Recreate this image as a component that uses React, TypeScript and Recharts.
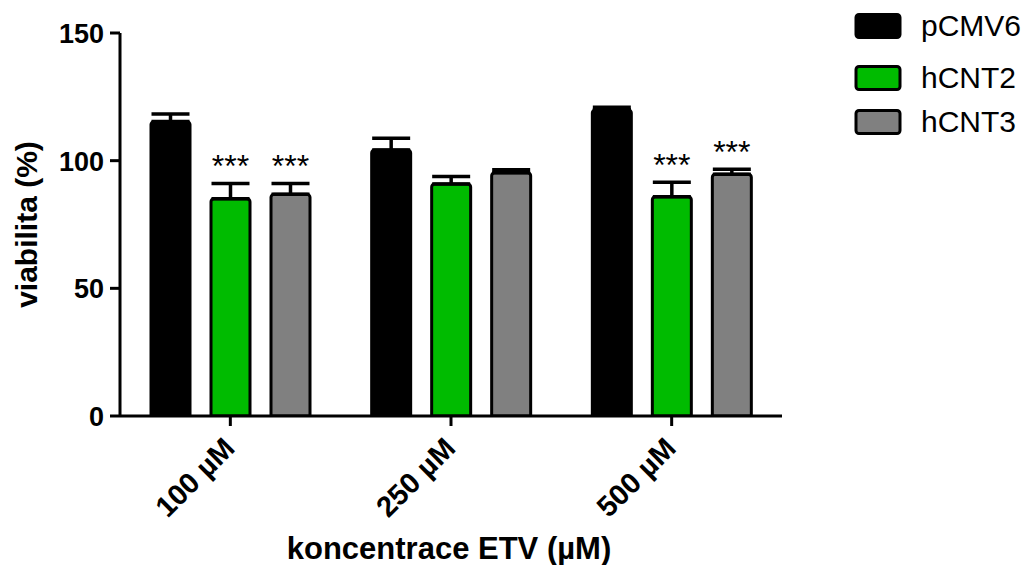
import { BarChart, Bar, XAxis, YAxis, ErrorBar, LabelList, Label, Legend } from "recharts";

const CATEGORIES = ["100 µM", "250 µM", "500 µM"];
const SERIES = ["pCMV6", "hCNT2", "hCNT3"];

const PCMV6 = [115.3, 104.2, 119.9];
const PCMV6_SEM = [3.0, 4.6, 1.0];
const PCMV6_SIG = ["", "", ""];

const HCNT2 = [85.1, 90.9, 85.9];
const HCNT2_SEM = [6.0, 2.9, 5.6];
const HCNT2_SIG = ["***", "", "***"];

const HCNT3 = [86.8, 95.3, 94.7];
const HCNT3_SEM = [4.3, 1.1, 1.9];
const HCNT3_SIG = ["***", "", "***"];

const Y_TICKS = [0, 50, 100, 150];

const COLORS: Record<string, string> = {
  pCMV6: "#000000",
  hCNT2: "#00bb00",
  hCNT3: "#808080",
};

const VALUES: Record<string, number[]> = { pCMV6: PCMV6, hCNT2: HCNT2, hCNT3: HCNT3 };
const SEMS: Record<string, number[]> = { pCMV6: PCMV6_SEM, hCNT2: HCNT2_SEM, hCNT3: HCNT3_SEM };
const SIGS: Record<string, string[]> = { pCMV6: PCMV6_SIG, hCNT2: HCNT2_SIG, hCNT3: HCNT3_SIG };

const data = CATEGORIES.map((name, i) => {
  const row: any = { name };
  SERIES.forEach((s) => {
    row[s] = VALUES[s][i];
    row[s + "Err"] = [0, SEMS[s][i]];
    row[s + "Sig"] = SIGS[s][i];
  });
  return row;
});

const FONT = '"Liberation Sans", Arial, sans-serif';

function XTick({ x, y, payload }: any) {
  return (
    <text
      transform={`translate(${x + 6},${y + 22}) rotate(-45)`}
      textAnchor="end"
      fontFamily={FONT}
      fontWeight="bold"
      fontSize={29}
      fill="#000"
    >
      {payload.value}
    </text>
  );
}

function YTick({ x, y, payload }: any) {
  return (
    <text
      x={x}
      y={y + 10}
      textAnchor="end"
      fontFamily={FONT}
      fontWeight="bold"
      fontSize={27}
      fill="#000"
    >
      {payload.value}
    </text>
  );
}

function makeStarLabel(series: string) {
  return (props: any) => {
    const vb = props.viewBox || props;
    const { x, y, width, height } = vb;
    const i = props.index;
    const value = props.value;
    if (!value) return null;
    const pxPerUnit = height / VALUES[series][i];
    const top = y - SEMS[series][i] * pxPerUnit - 6;
    return (
      <text
        x={x + width / 2}
        y={top}
        textAnchor="middle"
        fontFamily={FONT}
        fontSize={32}
        fill="#000"
      >
        {value}
      </text>
    );
  };
}

const LEGEND_Y = [26, 78, 122];

function LegendContent() {
  return (
    <svg width={184} height={150}>
      {SERIES.map((s, i) => (
        <g key={s}>
          <rect
            x={13}
            y={LEGEND_Y[i] - 11.5}
            width={44}
            height={23}
            rx={3}
            fill={COLORS[s]}
            stroke="#000"
            strokeWidth={3}
          />
          <text
            x={78}
            y={LEGEND_Y[i] + 10}
            fontFamily={FONT}
            fontSize={30}
            fill="#000"
          >
            {s}
          </text>
        </g>
      ))}
    </svg>
  );
}

export default function App() {
  return (
    <div style={{ position: "absolute", left: 0, top: 0, background: "#fff" }}>
      <BarChart
        width={1029}
        height={565}
        data={data}
        margin={{ top: 33, right: 63, bottom: 0, left: 0 }}
        barSize={39}
        barGap={21}
      >
        <XAxis
          dataKey="name"
          height={149}
          stroke="#000"
          strokeWidth={3}
          tickSize={10}
          tickMargin={2}
          tick={<XTick />}
          interval={0}
        >
          <Label
            content={({ viewBox }: any) => (
              <text
                x={viewBox.x + viewBox.width / 2 - 2}
                y={viewBox.y + 143}
                textAnchor="middle"
                fontFamily={FONT}
                fontWeight="bold"
                fontSize={31}
                fill="#000"
              >
                koncentrace ETV (µM)
              </text>
            )}
          />
        </XAxis>
        <YAxis
          width={120}
          domain={[0, 150]}
          ticks={Y_TICKS}
          stroke="#000"
          strokeWidth={3}
          tickSize={10}
          tickMargin={6}
          tick={<YTick />}
          allowDataOverflow
        >
          <Label
            content={({ viewBox }: any) => (
              <text
                transform={`translate(37,${viewBox.y + viewBox.height / 2}) rotate(-90)`}
                textAnchor="middle"
                fontFamily={FONT}
                fontWeight="bold"
                fontSize={30}
                fill="#000"
              >
                viabilita (%)
              </text>
            )}
          />
        </YAxis>
        <Legend
          layout="vertical"
          align="right"
          verticalAlign="top"
          content={<LegendContent />}
          wrapperStyle={{ left: 843, top: 0, width: 184, height: 150 }}
        />
        {SERIES.map((s) => (
          <Bar
            key={s}
            dataKey={s}
            fill={COLORS[s]}
            stroke="#000"
            strokeWidth={3}
            radius={[3, 3, 0, 0]}
            isAnimationActive={false}
          >
            <ErrorBar dataKey={s + "Err"} direction="y" width={19} stroke="#000" strokeWidth={3.5} />
            <LabelList dataKey={s + "Sig"} content={makeStarLabel(s)} />
          </Bar>
        ))}
      </BarChart>
    </div>
  );
}
